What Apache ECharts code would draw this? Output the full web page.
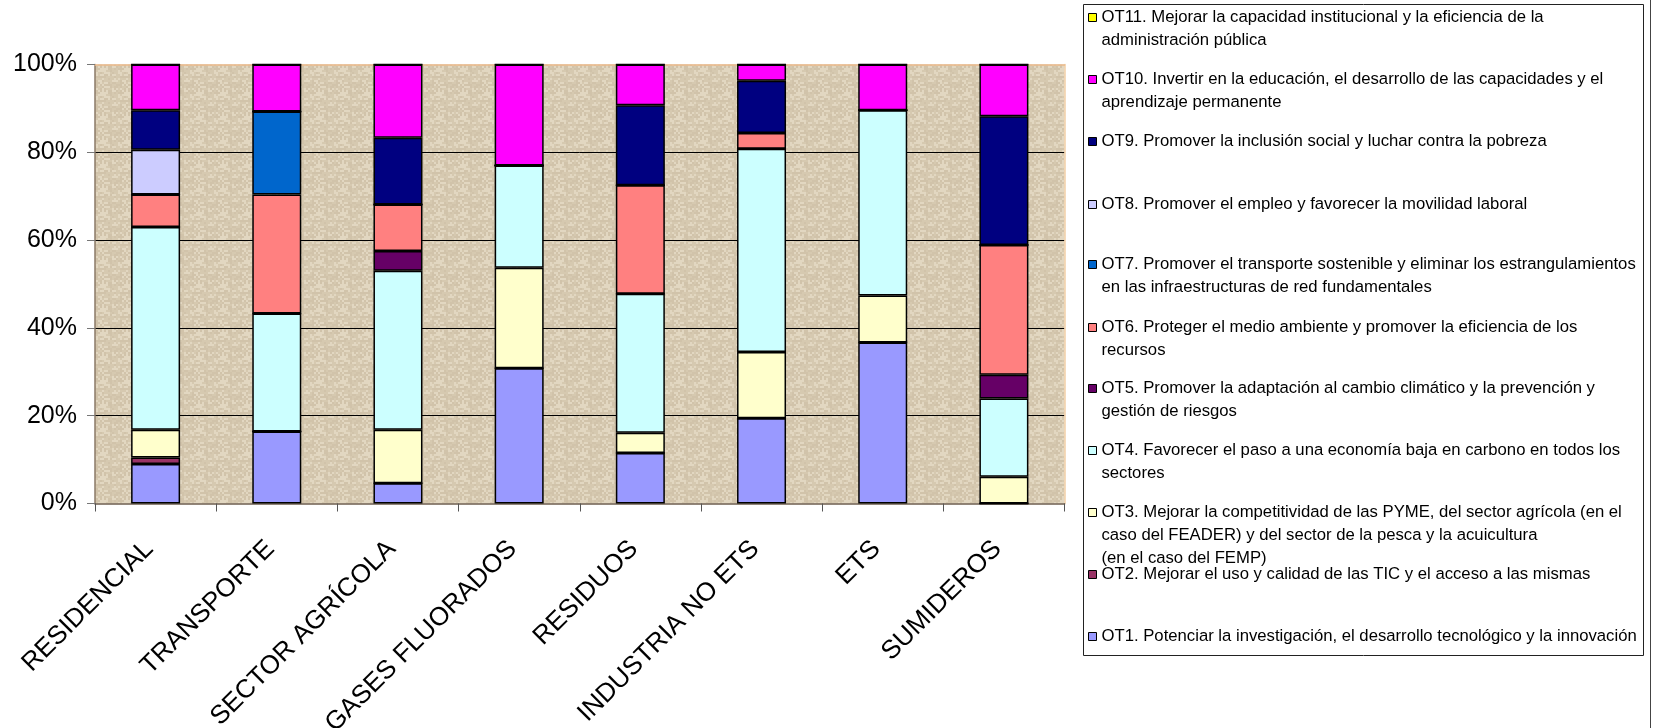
<!DOCTYPE html>
<html>
<head>
<meta charset="utf-8">
<script src="https://cdn.jsdelivr.net/npm/echarts@6/dist/echarts.min.js"></script>
<style>
html,body{margin:0;padding:0;background:#fff;}
#chart{width:1656px;height:728px;}
</style>
</head>
<body>
<div id="chart"></div>
<script>
// ---- data ----
const categories = ['RESIDENCIAL','TRANSPORTE','SECTOR AGRÍCOLA','GASES FLUORADOS','RESIDUOS','INDUSTRIA NO ETS','ETS','SUMIDEROS'];
const seriesCodes = ['OT1','OT2','OT3','OT4','OT5','OT6','OT7','OT8','OT9','OT10','OT11'];
const ot1  = [9.0, 16.4, 4.6, 30.8, 11.5, 19.4, 36.7, 0];
const ot2  = [1.5, 0, 0, 0, 0, 0, 0, 0];
const ot3  = [6.3, 0, 12.2, 22.9, 4.6, 15.1, 10.7, 6.1];
const ot4  = [46.2, 26.9, 36.2, 23.3, 31.7, 46.3, 42.2, 17.8];
const ot5  = [0, 0, 4.5, 0, 0, 0, 0, 5.4];
const ot6  = [7.4, 27.1, 10.6, 0, 24.7, 3.6, 0, 29.6];
const ot7  = [0, 18.9, 0, 0, 0, 0, 0, 0];
const ot8  = [10.2, 0, 0, 0, 0, 0, 0, 0];
const ot9  = [9.0, 0, 15.2, 0, 18.2, 11.9, 0, 29.3];
const ot10 = [10.4, 10.7, 16.7, 23.0, 9.3, 3.7, 10.4, 11.8];
const ot11 = [0, 0, 0, 0, 0, 0, 0, 0];
const seriesValues = [ot1, ot2, ot3, ot4, ot5, ot6, ot7, ot8, ot9, ot10, ot11];
const legendLines = {
  OT11: ['OT11. Mejorar la capacidad institucional y la eficiencia de la', 'administración pública'],
  OT10: ['OT10. Invertir en la educación, el desarrollo de las capacidades y el', 'aprendizaje permanente'],
  OT9:  ['OT9. Promover la inclusión social y luchar contra la pobreza'],
  OT8:  ['OT8. Promover el empleo y favorecer la movilidad laboral'],
  OT7:  ['OT7. Promover el transporte sostenible y eliminar los estrangulamientos', 'en las infraestructuras de red fundamentales'],
  OT6:  ['OT6. Proteger el medio ambiente y promover la eficiencia de los', 'recursos'],
  OT5:  ['OT5. Promover la adaptación al cambio climático y la prevención y', 'gestión de riesgos'],
  OT4:  ['OT4. Favorecer el paso a una economía baja en carbono en todos los', 'sectores'],
  OT3:  ['OT3. Mejorar la competitividad de las PYME, del sector agrícola (en el', 'caso del FEADER) y del sector de la pesca y la acuicultura', '(en el caso del FEMP)'],
  OT2:  ['OT2. Mejorar el uso y calidad de las TIC y el acceso a las mismas'],
  OT1:  ['OT1. Potenciar la investigación, el desarrollo tecnológico y la innovación']
};
const legendOrder = ['OT11','OT10','OT9','OT8','OT7','OT6','OT5','OT4','OT3','OT2','OT1'];

// ---- styles ----
const colors = {
  OT1:'#9999ff', OT2:'#993366', OT3:'#ffffcc', OT4:'#ccffff', OT5:'#660066',
  OT6:'#ff8080', OT7:'#0066cc', OT8:'#ccccff', OT9:'#000080', OT10:'#ff00ff', OT11:'#ffff00'
};
const FONT = '"Liberation Sans", Arial, Helvetica, sans-serif';

// burlap-like texture for plot background (deterministic hash pattern)
function makeTexture(){
  const S = 24;
  const c = document.createElement('canvas');
  c.width = S; c.height = S;
  const ctx = c.getContext('2d');
  const shades = ['#e2d7c1','#dcd0b9','#d6c9b0','#e6dcc8','#d1c3aa','#dfd3bd'];
  for (let y = 0; y < S; y += 2) {
    for (let x = 0; x < S; x += 2) {
      let h = (x * 374761393 + y * 668265263) >>> 0;
      h = ((h ^ (h >>> 13)) * 1274126177) >>> 0;
      ctx.fillStyle = shades[h % shades.length];
      ctx.fillRect(x, y, 2, 2);
    }
  }
  return c;
}

const chart = echarts.init(document.getElementById('chart'), null, {renderer:'canvas'});

const series = seriesCodes.map((code, i) => ({
  name: code,
  type: 'bar',
  stack: 'total',
  barWidth: 49,
  data: seriesValues[i],
  itemStyle: { color: colors[code], borderColor: '#000', borderWidth: 1.5 }
}));

// legend: one component per entry so every entry sits at its own row
const LH = 23;
const firstLineCenters = [17, 79, 141, 204, 264, 327, 388, 450, 512, 574, 636];
const legends = legendOrder.map((code, i) => {
  const n = legendLines[code].length;
  const h = n * LH;
  const a = LH / 2 - 4;
  return {
    data: [code],
    orient: 'vertical',
    left: 1088,
    top: firstLineCenters[i] - LH / 2,
    padding: 0,
    itemWidth: 8,
    itemHeight: h,
    itemGap: 0,
    itemTextGap: 10,
    selectedMode: false,
    icon: 'path://M0,0M8,' + h + 'M0,' + a + 'H8V' + (a + 8) + 'H0Z',
    itemStyle: { borderColor: '#000', borderWidth: 1 },
    formatter: name => legendLines[name].join('\n'),
    textStyle: { fontFamily: FONT, fontSize: 16.7, lineHeight: LH, color: '#000' }
  };
});

const option = {
  backgroundColor: '#ffffff',
  animation: false,
  grid: {
    left: 95, right: 591.5, top: 64.5, bottom: 224.5,
    outerBoundsMode: 'none',
    containLabel: false,
    show: true,
    backgroundColor: { image: makeTexture(), repeat: 'repeat' },
    borderWidth: 0
  },
  legend: legends,
  xAxis: [{
    type: 'category',
    data: categories,
    axisLine: { show: true, lineStyle: { color: '#6e5e4e', width: 1.5 } },
    axisTick: { show: true, length: 8, lineStyle: { color: '#555' } },
    axisLabel: { rotate: 45, margin: 35, padding: [0, 9, 0, 0], fontFamily: FONT, fontSize: 26, color: '#000' },
    splitLine: { show: false }
  }, {
    type: 'category',
    position: 'top',
    data: categories,
    axisLine: { show: true, onZero: false, lineStyle: { color: '#eab98a', width: 1.5 } },
    axisTick: { show: false },
    axisLabel: { show: false }
  }],
  yAxis: [{
    type: 'value',
    min: 0, max: 100, interval: 20,
    axisLine: { show: true, lineStyle: { color: '#8a7866', width: 1.5 } },
    axisTick: { show: true, length: 8, lineStyle: { color: '#777' } },
    axisLabel: { formatter: '{value}%', margin: 18, fontFamily: FONT, fontSize: 25, color: '#000' },
    splitLine: { show: true, showMinLine: false, showMaxLine: false, lineStyle: { color: '#000', width: 1 } }
  }, {
    type: 'value',
    position: 'right',
    min: 0, max: 100, interval: 20,
    axisLine: { show: true, onZero: false, lineStyle: { color: '#f2cfa6', width: 1.5 } },
    axisTick: { show: false },
    axisLabel: { show: false },
    splitLine: { show: false }
  }],
  series: series,
  graphic: [
    { type: 'rect', shape: { x: 1083.5, y: 4.5, width: 560, height: 651 },
      style: { fill: 'none', stroke: '#222', lineWidth: 1 }, silent: true, z: -1 },
    { type: 'line', shape: { x1: 1650.5, y1: 0, x2: 1650.5, y2: 728 },
      style: { stroke: '#444', lineWidth: 1 }, silent: true }
  ]
};
chart.setOption(option);
</script>
</body>
</html>
